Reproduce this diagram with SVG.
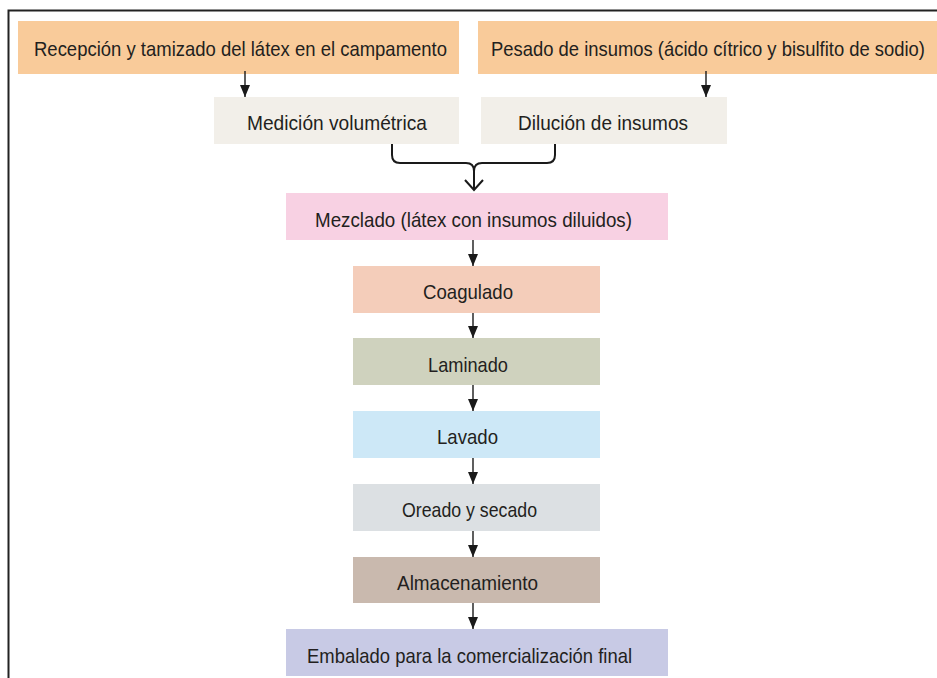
<svg xmlns="http://www.w3.org/2000/svg" width="937" height="678" viewBox="0 0 937 678">
<defs>
<style>
.t{font-family:"Liberation Sans",Arial,sans-serif;font-size:21px;fill:#231f20;}
.c{stroke:#1a1a1a;stroke-width:1.4;fill:none;}
.b{stroke:#1a1a1a;stroke-width:2;fill:none;}
</style>
<marker id="ah" markerWidth="12" markerHeight="10" refX="12" refY="5" orient="auto" markerUnits="userSpaceOnUse" viewBox="0 0 12 10">
<path d="M0,0 L12,5 L0,10 Z" fill="#1a1a1a"/>
</marker>
</defs>
<rect width="937" height="678" fill="#fff"/>
<path d="M8.5,678 V10.5 H937" stroke="#222" stroke-width="2" fill="none"/>
<g id="n1"><rect x="18" y="21" width="441" height="53" fill="#f9cb9a"/><text class="t" x="34" y="56" textLength="413" lengthAdjust="spacingAndGlyphs">Recepción y tamizado del látex en el campamento</text></g>
<g id="n2"><rect x="478" y="21" width="459" height="53" fill="#f9cb9a"/><text class="t" x="491" y="56" textLength="434" lengthAdjust="spacingAndGlyphs">Pesado de insumos (ácido cítrico y bisulfito de sodio)</text></g>
<g id="n3"><rect x="214" y="97" width="245" height="47" fill="#f2efe9"/><text class="t" x="247" y="130" textLength="180" lengthAdjust="spacingAndGlyphs">Medición volumétrica</text></g>
<g id="n4"><rect x="481" y="97" width="246" height="47" fill="#f2efe9"/><text class="t" x="518" y="130" textLength="170" lengthAdjust="spacingAndGlyphs">Dilución de insumos</text></g>
<g id="n5"><rect x="286" y="193" width="382" height="47" fill="#f8d1e3"/><text class="t" x="315" y="227" textLength="317" lengthAdjust="spacingAndGlyphs">Mezclado (látex con insumos diluidos)</text></g>
<g id="n6"><rect x="353" y="266" width="247" height="47" fill="#f4cdba"/><text class="t" x="423" y="299" textLength="90" lengthAdjust="spacingAndGlyphs">Coagulado</text></g>
<g id="n7"><rect x="353" y="338" width="247" height="47" fill="#cfd2be"/><text class="t" x="428" y="372" textLength="80" lengthAdjust="spacingAndGlyphs">Laminado</text></g>
<g id="n8"><rect x="353" y="411" width="247" height="47" fill="#cde8f7"/><text class="t" x="437" y="444" textLength="61" lengthAdjust="spacingAndGlyphs">Lavado</text></g>
<g id="n9"><rect x="353" y="484" width="247" height="47" fill="#dce0e3"/><text class="t" x="402" y="517" textLength="135" lengthAdjust="spacingAndGlyphs">Oreado y secado</text></g>
<g id="n10"><rect x="353" y="557" width="247" height="46" fill="#c9b9ae"/><text class="t" x="397" y="590" textLength="141" lengthAdjust="spacingAndGlyphs">Almacenamiento</text></g>
<g id="n11"><rect x="286" y="629" width="382" height="47" fill="#c8cae5"/><text class="t" x="307" y="663" textLength="325" lengthAdjust="spacingAndGlyphs">Embalado para la comercialización final</text></g>
<g id="connectors">
<path class="c" d="M245,71 V97" marker-end="url(#ah)"/>
<path class="c" d="M706,71 V97" marker-end="url(#ah)"/>
<path class="b" d="M392,144 V155 Q392,163 400,163 H466 Q474,163 474,171 V190"/>
<path class="b" d="M555,144 V155 Q555,163 547,163 H482 Q474,163 474,171"/>
<path class="b" d="M465,180 L474,190 L483,180"/>
<path class="c" d="M473,240 V266" marker-end="url(#ah)"/>
<path class="c" d="M473,313 V338" marker-end="url(#ah)"/>
<path class="c" d="M473,385 V411" marker-end="url(#ah)"/>
<path class="c" d="M473,458 V484" marker-end="url(#ah)"/>
<path class="c" d="M473,531 V557" marker-end="url(#ah)"/>
<path class="c" d="M473,603 V629" marker-end="url(#ah)"/>
</g>
</svg>
